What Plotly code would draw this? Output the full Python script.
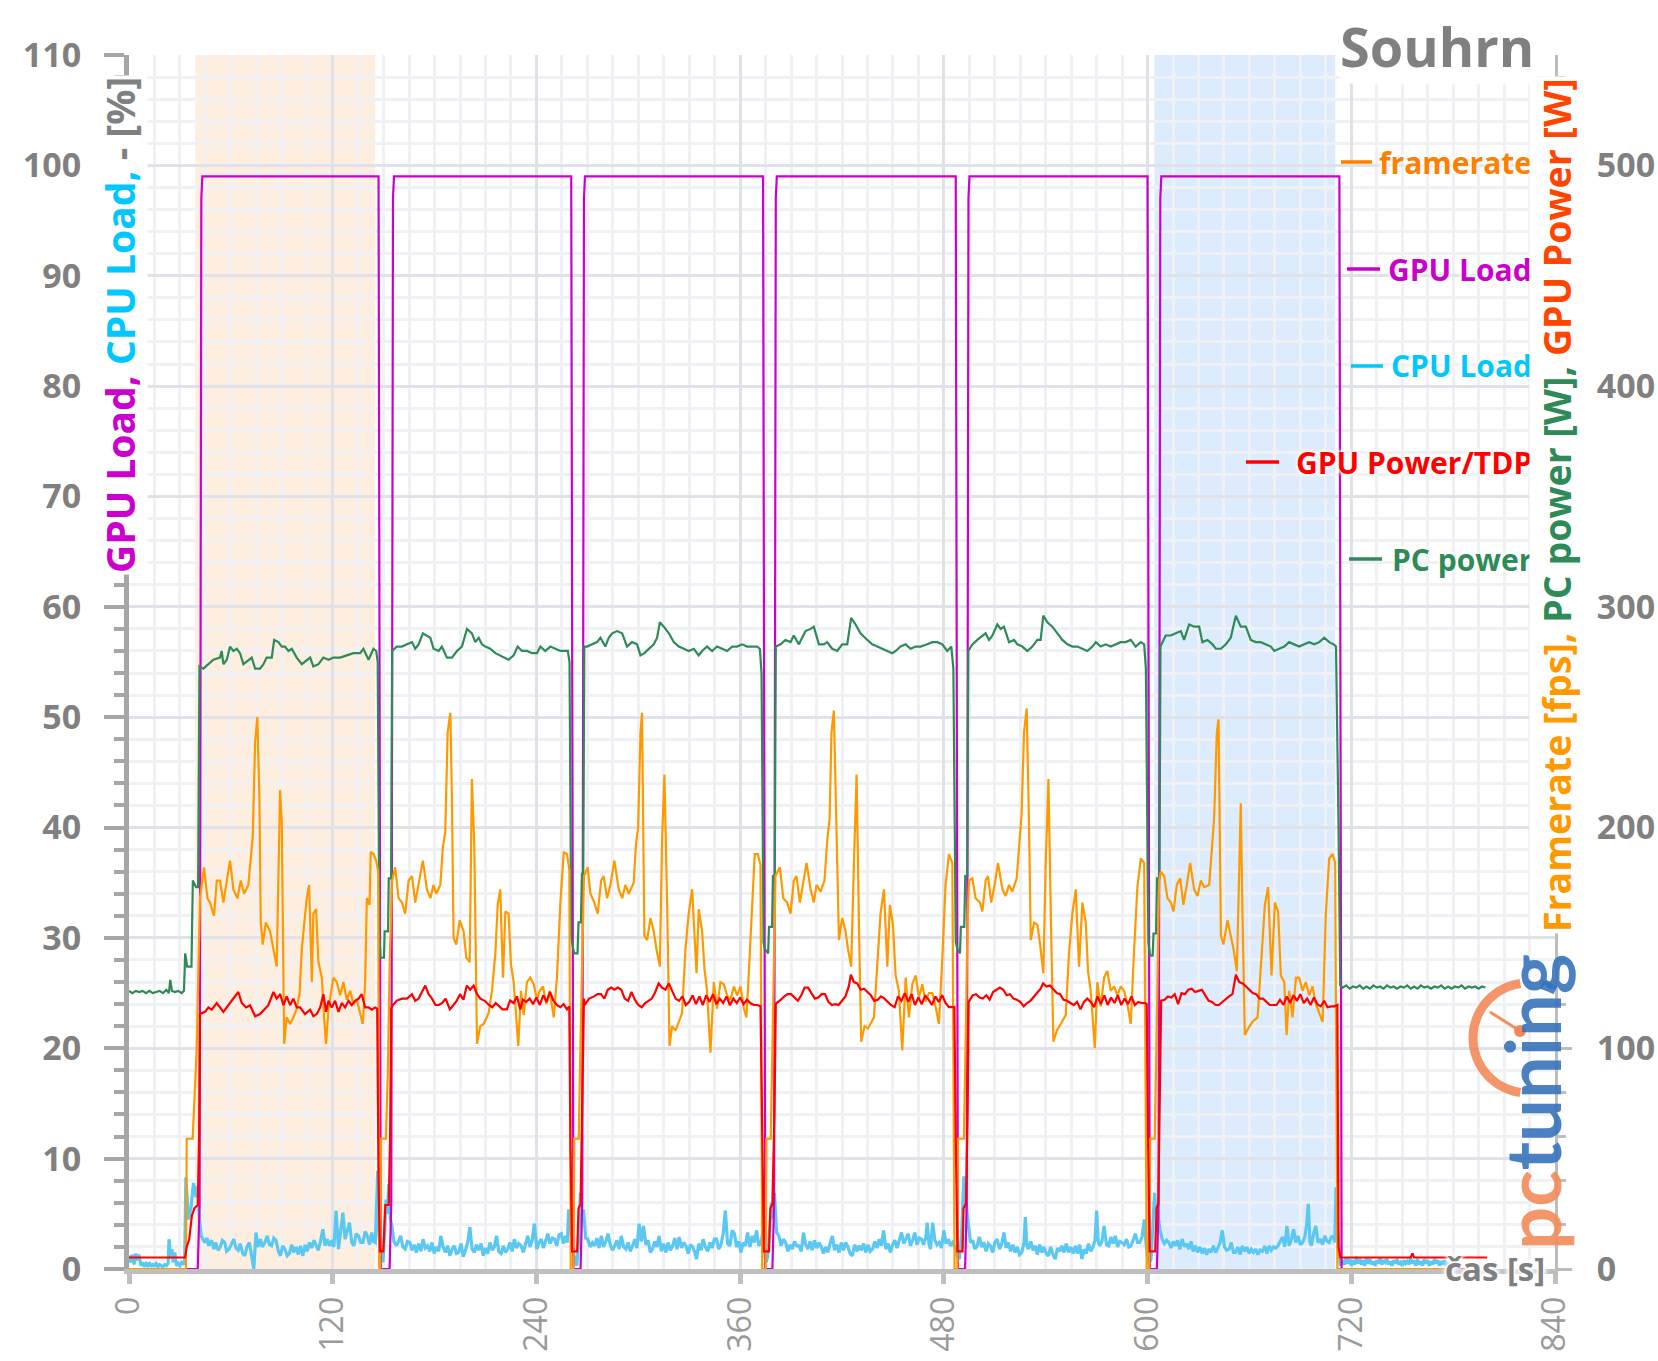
import math
import plotly.graph_objects as go

# ---------------- data ----------------
# time axis [s]
x_ticks = [0, 120, 240, 360, 480, 600, 720, 840]

# GPU Load [%] (left axis)
gpu_load_t = [0, 40.5, 41.6, 42.6, 43.2, 147.0, 148.3, 153.5, 154.5, 155.5, 156.1,
              260.5, 261.8, 266.0, 267.0, 268.0, 268.6, 373.5, 374.8, 379.0, 380.0, 381.0, 381.6,
              487.0, 488.3, 492.5, 493.5, 494.5, 495.1, 600.0, 601.3, 605.5, 606.5, 607.5, 608.1,
              713.0, 714.3, 790]
gpu_load_v = [0, 0, 6, 97, 99, 99, 0, 0, 6, 97, 99,
              99, 0, 0, 6, 97, 99, 99, 0, 0, 6, 97, 99,
              99, 0, 0, 6, 97, 99, 99, 0, 0, 6, 97, 99,
              99, 0, 0]

# framerate [fps] (right axis)
fps_pts = [
    (0, 0), (33.5, 0), (34, 59), (37.5, 59), (39.9, 100), (41.8, 168),
    (44.2, 182), (46.2, 168), (47.7, 166), (50.1, 160), (51.7, 176), (53.6, 176), (55.6, 166), (57.2, 174),
    (59.5, 185), (61.5, 172), (63.9, 168), (65.8, 176), (67.8, 170), (70.3, 174), (71.7, 188), (72.9, 196),
    (74.3, 239), (75.6, 250), (76.8, 214), (77.6, 157), (78.8, 147), (80.6, 157), (83.1, 153), (85.1, 145),
    (87, 137), (89, 217), (90, 202), (91.4, 102), (92.9, 114), (94.9, 111), (96.9, 114), (98.8, 118),
    (100.5, 125), (101.8, 145), (104.7, 168), (106.1, 174), (107.7, 130), (108.6, 161), (110.2, 163),
    (111.6, 139), (113.6, 132), (114.9, 114), (116.1, 102), (117.5, 118), (120.4, 132), (122.4, 130),
    (124.4, 124), (126.3, 130), (128.3, 122), (130.3, 126), (132.2, 120), (134.2, 122), (136.1, 116),
    (137.7, 111), (139.1, 130), (140.1, 168), (141.7, 165), (142.4, 189), (144, 188), (145.6, 185), (146.8, 180),
    (147.4, 0), (148, 0), (148.3, 59), (151.3, 59), (152.5, 90), (153.6, 140), (155, 176),
    (156.8, 182), (158.8, 168), (160.8, 166), (162.7, 161), (164.7, 176), (166.7, 178), (168.6, 166),
    (170.6, 174), (173.1, 185), (175.5, 172), (177.5, 168), (179.4, 174), (181, 170), (183.4, 174),
    (184.9, 191), (186.3, 198), (187.7, 243), (189.3, 252), (190.2, 214), (191.2, 150), (192.8, 147),
    (194.8, 158), (197.1, 153), (198.7, 141), (200.7, 139), (202, 222), (203.4, 192), (205, 102),
    (206.9, 110), (208.9, 111), (211.9, 116), (213.8, 126), (215.8, 143), (217.2, 165), (218.7, 172),
    (220.3, 132), (221.7, 162), (223.6, 161), (225, 138), (226.6, 130), (228.2, 114), (229.3, 101),
    (230.9, 126), (232.5, 115), (234.4, 130), (236.4, 132), (238.4, 129), (240.3, 122), (241.9, 126),
    (243.9, 128), (245.8, 120), (247.8, 126), (250.2, 114), (252.1, 132), (254.1, 166), (256.1, 189),
    (258, 188), (259.4, 181),
    (260.2, 0), (261.8, 0), (262.3, 59), (264.9, 59), (265.9, 100), (267, 150), (268, 178),
    (270.2, 182), (271.8, 170), (274.1, 166), (276.1, 161), (278.1, 176), (279.6, 178), (281.6, 168),
    (283.6, 174), (285.9, 185), (288.5, 172), (290.5, 168), (292.4, 174), (294.4, 170), (297.3, 175),
    (298.7, 193), (299.9, 200), (301.3, 243), (302.2, 252), (303.6, 151), (305.2, 149), (307.2, 159),
    (309.1, 153), (310.7, 145), (312.7, 137), (314, 194), (315.4, 224), (317, 165), (318.4, 101),
    (319.9, 110), (321.9, 108), (323.9, 112), (325.8, 116), (327.8, 145), (329.7, 161), (331.7, 172),
    (334.3, 134), (335.6, 163), (337.6, 153), (339, 136), (340.5, 126), (342.5, 98), (344.5, 130),
    (346.4, 118), (348.4, 130), (350.4, 129), (352.3, 124), (354.3, 122), (356.3, 128), (358.2, 124),
    (360.2, 128), (362.2, 118), (363.7, 114), (365.1, 134), (367.1, 168), (368.6, 188), (370.4, 188), (372, 183),
    (373, 0), (375, 0), (375.5, 59), (378, 59), (379, 100), (380, 150), (380.8, 178),
    (383.4, 182), (385.4, 168), (387.7, 166), (389.7, 161), (391.6, 176), (393.2, 178), (395.2, 166),
    (397.1, 174), (399.1, 184), (401.5, 172), (403.4, 166), (405, 174), (407.4, 171), (409.7, 176),
    (411.3, 194), (412.7, 204), (413.8, 243), (415.2, 253), (416.8, 200), (418.2, 149), (420.1, 159),
    (422.1, 153), (423.5, 145), (425.4, 137), (427, 183), (428.6, 224), (430, 155), (431.3, 103),
    (433.3, 110), (435.3, 109), (438.8, 114), (440.8, 139), (442.7, 161), (444.7, 172), (446.7, 137),
    (448.2, 165), (450, 156), (451.6, 133), (453.5, 126), (455.5, 99), (457.5, 132), (459.4, 114),
    (461.4, 129), (463.4, 133), (465.3, 123), (467.3, 129), (469.2, 121), (471.2, 125), (473.2, 125),
    (475.1, 119), (477.1, 111), (479.1, 141), (481, 174), (483, 188), (485, 184),
    (486.3, 0), (488, 0), (488.3, 59), (491.8, 59), (493, 110), (494, 160), (494.8, 176),
    (496.8, 177), (498.7, 168), (501.3, 166), (502.7, 162), (504.6, 176), (506, 178), (507.9, 166),
    (509.9, 174), (511.9, 184), (514.5, 172), (516.4, 169), (518.4, 174), (520.3, 171), (522.9, 177),
    (524.7, 194), (525.8, 206), (527.2, 243), (528.8, 254), (530.2, 200), (531.2, 149), (533.1, 157),
    (535.1, 156), (536.7, 147), (538.6, 134), (540, 184), (541.6, 222), (543, 161), (544.5, 103),
    (546.5, 108), (548.8, 111), (551.8, 115), (553.7, 143), (555.7, 161), (557.7, 172), (559.6, 137),
    (561.6, 166), (563.6, 157), (564.9, 135), (566.5, 126), (568.9, 100), (570.4, 130), (572.4, 119),
    (574.4, 132), (576.3, 135), (578.3, 126), (580.3, 128), (582.2, 124), (584.2, 128), (586.2, 126),
    (588.1, 120), (590.1, 111), (592.1, 145), (594, 173), (596, 186), (598, 184),
    (599.5, 0), (601, 0), (601.5, 59), (604.2, 59), (605.2, 100), (606, 150), (606.8, 176),
    (607.8, 180), (609.8, 178), (611.7, 168), (613.7, 166), (615.3, 162), (617.2, 174), (619.2, 177),
    (621.1, 165), (623.1, 174), (625.1, 184), (627.4, 172), (629.4, 169), (631.4, 176), (633.3, 173),
    (636.3, 174), (637.8, 190), (639.2, 204), (640.8, 243), (641.8, 249), (643.2, 151), (644.7, 147),
    (647.1, 158), (649, 151), (650.6, 145), (652.6, 135), (654, 192), (654.9, 211), (655.9, 161),
    (657.3, 106), (659.3, 109), (661.8, 112), (664.8, 114), (667.1, 141), (669.1, 165), (671, 173),
    (673, 133), (675, 166), (676.9, 162), (678.5, 133), (680.5, 130), (681.9, 106), (683.4, 126),
    (685.4, 114), (687.4, 132), (689.3, 132), (691.3, 126), (693.2, 130), (695.2, 124), (697.2, 128),
    (699.1, 120), (701.1, 116), (703.1, 112), (705, 161), (707, 186), (709, 188), (710.5, 184),
    (711.8, 0), (780, 0),
]

# PC power [W] (right axis)
pc_pts = [
    (0, 126), (2, 125), (4, 126), (6, 125.5), (8, 126), (10, 125), (12, 126), (14, 125), (16, 125.5),
    (18, 126), (20, 125), (22, 126.5), (23.5, 125), (24.3, 131), (25.3, 126), (27, 125.5), (29, 126),
    (31, 125), (32.4, 126), (33.1, 143), (34.3, 137), (36.8, 137), (37.6, 176), (39.5, 173), (40.7, 173),
    (41.5, 273), (43.8, 272), (46.8, 274), (49.7, 276), (53.6, 277), (54.6, 280), (55.6, 274), (57.6, 276),
    (59.5, 282), (61.5, 280), (63.5, 281), (65.4, 279), (67.4, 274), (70.3, 276), (72.3, 277), (74.3, 272),
    (77.2, 272), (79.2, 274), (81.1, 277), (84.1, 277), (85.5, 285), (88, 284), (90, 282), (91.9, 282),
    (93.9, 280), (95.9, 281), (98.8, 277), (101.8, 274), (104.7, 276), (106.7, 277), (108.6, 273),
    (111.6, 274), (114.5, 277), (117.5, 276), (120.4, 277), (124.4, 277), (128.3, 278), (132.2, 279),
    (136.1, 279), (138.1, 281), (141.1, 276), (144, 281), (145.6, 280), (146.5, 275),
    (147.5, 150), (148.2, 141), (150.2, 141), (150.6, 153), (152.6, 153), (153, 177), (154.4, 177),
    (155, 280), (157.8, 282), (160.8, 282), (163.7, 283), (166.7, 284), (168.6, 281), (170.6, 283),
    (173.1, 288), (175.5, 287), (177.5, 286), (179.4, 281), (182.4, 280), (184.3, 282), (187.3, 277),
    (190.2, 277), (193.2, 280), (196.1, 282), (199.1, 290), (202, 288), (204, 284), (206, 286),
    (207.9, 283), (209.9, 282), (212.8, 281), (215.8, 279), (218.7, 278), (221.7, 277), (223.6, 276),
    (226.6, 278), (228.9, 282), (231.5, 280), (234.4, 280), (237.4, 279), (240.3, 279), (242.3, 282),
    (245.2, 280), (248.2, 282), (251.1, 281), (254.1, 280), (257, 280), (258.5, 280), (259.5, 275),
    (260.5, 150), (261.2, 147), (262.2, 143), (264.2, 143), (264.8, 157), (266.2, 157), (266.8, 179),
    (267.6, 179), (268.2, 282), (269.8, 282), (272.8, 283), (275.7, 284), (277.7, 286), (280.6, 282),
    (282.6, 286), (284.6, 288), (287.5, 289), (290.5, 288), (293.4, 282), (296.3, 284), (299.3, 283),
    (301.3, 278), (303.6, 279), (306.2, 281), (309.1, 283), (311.1, 286), (312.7, 293), (315, 291),
    (318, 288), (320.9, 284), (323.9, 282), (326.8, 281), (329.7, 280), (332.7, 281), (335.6, 278),
    (337.6, 280), (340.5, 282), (343.5, 280), (346.4, 282), (349.4, 281), (352.3, 280), (355.3, 282),
    (358.2, 282), (361.2, 283), (364.1, 282), (367.1, 282), (370, 282), (371.6, 281), (372.6, 270),
    (373.8, 148), (374.5, 145), (376.5, 143), (377, 155), (378.8, 155), (379.3, 178), (380.4, 178),
    (381, 282), (383.8, 283), (386.7, 285), (389.7, 284), (391.6, 287), (394.6, 283), (398.5, 289),
    (401.5, 290), (403.4, 291), (406.4, 283), (409.3, 283), (411.3, 284), (414.2, 281), (417.2, 280),
    (420.1, 283), (423.1, 283), (425.4, 295), (428, 292), (430.9, 288), (434.9, 285), (437.8, 283),
    (440.8, 282), (443.7, 281), (446.7, 280), (449.6, 279), (451.6, 280), (454.5, 282), (457.5, 283),
    (460.4, 281), (463.4, 282), (466.3, 282), (470.2, 283), (473.2, 284), (476.1, 284), (479.1, 283),
    (482, 280), (484.4, 282), (485.6, 272), (487, 148), (488, 145), (489.5, 143), (490, 155), (492, 155),
    (492.6, 178), (493.8, 178), (494.4, 280), (496.8, 283), (499.7, 285), (502.7, 287), (504.6, 288),
    (506.6, 285), (508.6, 287), (511.5, 292), (513.5, 290), (515.4, 291), (518.4, 284), (521.3, 285),
    (523.3, 283), (526.2, 282), (529.2, 280), (532.1, 282), (535.1, 285), (537, 285), (538.6, 296),
    (541, 293), (543.9, 291), (546.9, 288), (549.8, 285), (552.8, 283), (555.7, 282), (558.7, 282),
    (561.6, 281), (564.5, 280), (567.5, 282), (569.5, 284), (572.4, 282), (575.4, 283), (578.3, 282),
    (581.2, 283), (584.2, 284), (587.1, 284), (590.1, 285), (593, 282), (596, 284), (598, 283),
    (599, 272), (600.5, 148), (601.5, 142), (603, 142), (603.5, 152), (605, 152), (605.6, 177), (607, 177),
    (607.6, 282), (610.7, 287), (613.7, 287), (616.6, 288), (619.6, 289), (621.5, 285), (624.5, 292),
    (627.4, 291), (630.4, 291), (632.3, 284), (635.3, 285), (638.2, 283), (640.2, 281), (643.2, 281),
    (646.1, 283), (649, 286), (652, 296), (654.9, 291), (657.9, 291), (660.8, 285), (663.8, 284),
    (666.7, 284), (669.7, 283), (672.6, 282), (674.6, 280), (677.5, 281), (680.5, 282), (683.4, 284),
    (686.4, 283), (689.3, 282), (692.3, 283), (695.2, 284), (698.2, 283), (701.1, 284), (704.1, 286),
    (707, 284), (709.6, 283), (711, 282), (712.5, 200), (713.5, 128.5),
    (715, 127.5), (717, 128.5), (719, 127), (721, 128), (723, 127.5), (725, 128.5), (727, 127), (729, 128),
    (731, 127), (733, 128.5), (735, 127.5), (737, 128), (739, 127), (741, 128.5), (743, 127.5), (745, 128),
    (747, 127), (749, 128), (751, 127.5), (753, 128.5), (755, 127), (757, 128), (759, 127), (761, 128.5),
    (763, 127.5), (765, 128), (767, 127), (769, 128), (771, 127.5), (773, 128.5), (775, 127), (777, 128),
    (779, 127), (781, 128), (783, 127.5), (785, 128.5), (787, 127), (789, 128), (791, 127.5), (793, 128),
    (795, 127), (797, 128), (799, 127.5),
]

# GPU power [W] (right axis)
gpu_pow_pts = [
    (0, 5.2), (33, 5.2), (34, 10), (35.5, 13.5), (37, 24), (38.5, 27.5), (40.5, 29), (41.3, 60),
    (41.8, 115.5), (44.8, 116.5), (46.8, 118.5), (48.7, 117.5), (51.7, 120.5), (53.6, 118.5), (55.6, 116.5),
    (58.5, 119.5), (61.5, 122.5), (64.4, 125.5), (66.4, 120.5), (69, 118.5), (71.3, 119.5), (74.3, 114.5),
    (77.2, 115.5), (79.6, 117.5), (82.1, 119.5), (85.1, 125.5), (87, 122.5), (89, 124.5), (91, 119.5),
    (92.9, 123.5), (94.9, 119.5), (96.8, 122.5), (98.8, 118.5), (100.8, 118.5), (103.7, 115.5),
    (106.7, 117.5), (108.6, 114.5), (110.6, 115.5), (112.6, 118.5), (114.5, 124.5), (116.1, 116.5),
    (117.5, 121.5), (119.4, 118.5), (121.4, 121.5), (123.4, 116.5), (125.3, 120.5), (127.3, 118.5),
    (129.3, 121.5), (131.2, 119.5), (133.2, 121.5), (135.2, 122.5), (137.1, 124.5), (139.1, 118.5),
    (141.1, 118.5), (143, 117.5), (145, 118.5), (146.2, 118),
    (147, 40), (147.8, 8), (149.8, 8), (150.4, 23.5), (151, 29), (153, 29), (153.8, 60), (154.5, 118),
    (155.5, 119.6), (157.8, 121.6), (160.8, 122.5), (163.7, 122.5), (166.7, 124.5), (168.6, 121.5),
    (170.6, 122.5), (174.5, 128.4), (176.5, 124.5), (178.5, 122.5), (180.5, 119.6), (182.5, 119.6),
    (184.5, 120.5), (186.5, 122.5), (189, 117.6), (191, 119.5), (193, 121.5), (195, 124.5), (197, 122),
    (199, 128.4), (201, 126.5), (203, 128.4), (205, 124.5), (207, 122.5), (209.5, 121.5), (212, 119.6),
    (214, 118.6), (216, 120.5), (218, 119), (220, 117.6), (222.6, 117.6), (224.5, 121.6), (226.5, 120.5),
    (228.5, 123.5), (230.5, 117.6), (232, 122), (234, 121), (236, 122.5), (238, 120), (240, 123),
    (242, 119.6), (244, 124), (246, 121), (248, 125.5), (250, 121.6), (252, 119.6), (254, 118.6),
    (256, 120), (258, 117.6), (259.4, 119),
    (260, 60), (261, 8), (264, 8), (264.8, 27.5), (266, 29.5), (267, 70), (268, 122.5),
    (268.5, 119.6), (271, 122.5), (274, 123.5), (276, 124.5), (278, 124.5), (280, 122.5), (282, 126.5),
    (284, 127.5), (286, 126.5), (288, 127.5), (290, 126.5), (292, 122.5), (294, 121.5), (296, 125.5),
    (298, 122), (300, 119.6), (302, 118.6), (304, 120.5), (306, 121.5), (308, 122.5), (310, 125.5),
    (312, 129.4), (314, 127.5), (316, 126.5), (318, 129.4), (320, 126), (322, 122.5), (324, 121.5),
    (326, 123.5), (328, 119.6), (330, 121), (332, 124), (334, 120), (336, 123.5), (338, 119.6), (340, 124),
    (342, 121), (344, 124.5), (346, 120), (348, 122.5), (350, 120.5), (352, 123.5), (354, 119.5),
    (356, 122.5), (358, 120.5), (360, 123), (362, 120), (364, 122), (366, 120.5), (368, 119.6),
    (370, 119.6), (372, 119),
    (373, 60), (374, 8), (377, 8), (377.8, 27.5), (379, 29.5), (380.2, 70), (381, 120),
    (381.5, 120.5), (384, 122), (386, 123.5), (388, 124.5), (390, 124.5), (392, 123), (394, 121.5),
    (396, 124), (398, 127.5), (400, 127.5), (402, 125), (404, 122.5), (406, 123), (408, 124.5),
    (410, 124.5), (412, 121), (414, 119.6), (416, 120), (418, 119.6), (420, 121.5), (422, 123.5),
    (424, 128), (425.2, 133.3), (427, 130), (429, 129.4), (431, 126.5), (433, 127), (435, 125.5),
    (437, 124), (439, 121.5), (441, 122), (443, 123.5), (445, 122.5), (447, 121), (449, 119.5),
    (451, 118.6), (453, 123.5), (455, 121.5), (457, 125), (459, 121), (461, 124.5), (463, 119.6),
    (465, 123), (467, 120), (469, 124), (471, 122), (473, 119.6), (475, 123.5), (477, 121), (479, 124),
    (481, 120.5), (483, 118.6), (485, 118.6), (486.2, 118.6),
    (487, 60), (488, 8), (491, 8), (491.6, 27.5), (493, 29.5), (494, 70), (494.6, 121),
    (495, 121.6), (497, 124), (499, 124.5), (501, 123), (503, 122.5), (505, 124), (507, 122),
    (509, 125.5), (511, 126.5), (513, 127.5), (515, 126.5), (517, 124), (519, 124.5), (521, 122.5),
    (523, 122), (525, 121), (527, 119), (529, 120.5), (531, 121.5), (533, 123.5), (535, 125.5),
    (537, 127), (538.5, 129.4), (540.5, 128), (542.5, 128.4), (544.5, 126.5), (546.5, 125), (548.5, 124.5),
    (550.5, 122), (552.5, 121.5), (554.5, 120.5), (556.5, 119.6), (558.5, 121), (560.5, 117.6),
    (562.5, 121), (564.5, 122.5), (566.5, 121), (568.5, 118.6), (570.5, 123.5), (572.5, 120), (574.5, 124),
    (576.5, 119.6), (578.5, 123), (580.5, 120.5), (582.5, 124), (584.5, 119.6), (586.5, 122.5),
    (588.5, 120), (590.5, 123.5), (592.5, 119.6), (594.5, 121), (596.5, 120.5), (598.5, 120.5), (599.5, 120),
    (600.3, 60), (601.2, 8), (604.5, 8), (605.3, 27.5), (606.3, 29.5), (607, 70), (607.6, 121),
    (608, 121.6), (610, 122), (612, 123.5), (614, 123), (616, 124.5), (618, 120), (620, 125), (622, 124.5),
    (624, 126.5), (626, 127), (628, 125.5), (630, 126), (632, 126.5), (634, 124), (636, 121.5), (638, 121),
    (640, 119.6), (642, 119.6), (644, 121), (646, 122.5), (648, 123.5), (650, 124.5), (652, 133.3),
    (654, 130), (656, 129.4), (658, 128), (660, 126.5), (662, 125), (664, 124.5), (666, 122.5),
    (668, 122.5), (670, 121), (672, 119.6), (674, 119.6), (676, 119.6), (678, 122), (680, 119.6),
    (682, 123.5), (684, 120.5), (686, 124), (688, 121.5), (690, 124.5), (692, 120.5), (694, 122.5),
    (696, 119.6), (698, 123), (700, 120), (702, 119), (704, 121.5), (706, 118.6), (708, 119), (710, 119),
    (711.8, 119.6), (712.5, 10), (713.5, 5.2), (755, 5.2), (756, 7), (757, 5.2), (800, 5.2),
]

# CPU Load [%] (left axis)
cpu_pts = [
    (0, 1.2), (1, 0.6), (2, 1.3), (3, 0.4), (4, 1.4), (5, 0.8), (6, 1.3), (7, 0.3), (8, 0.6), (9, 0.2),
    (10, 0.5), (11, 0.3), (12, 0.6), (13, 0.2), (14, 0.4), (15, 0.3), (16, 0.5), (17, 0.2), (18, 0.4),
    (19, 0.3), (20, 0.2), (21, 0.4), (22, 0.3), (23, 0.5), (23.6, 2.7), (24.5, 1.0), (25.3, 1.8), (26, 0.6),
    (27, 1.5), (28, 0.3), (29, 0.5), (30, 0.3), (31, 0.6), (32, 0.4), (32.8, 0.7), (33.5, 8.3), (35, 4.5),
    (36.5, 5.5), (38, 7.8), (39.5, 6.5), (40.5, 7.5), (41.5, 4.5), (42.5, 3.0), (43.5, 2.7),
    (44.6, 2.4), (46, 2.8), (47, 2.1), (48.6, 2.6), (50, 1.8), (51, 2.4), (52.5, 1.7), (53.8, 2.0), (55, 2.6),
    (56.4, 2.4), (57.5, 1.6), (59, 1.8), (60.3, 2.2), (61.7, 2.7), (63, 1.9), (64.3, 1.7), (65.5, 2.3),
    (67, 1.4), (68.2, 1.2), (69.5, 2.0), (70.9, 2.4), (72, 1.3), (73.5, 0), (74.8, 3.3), (76, 2.0),
    (77.4, 2.7), (78.5, 2.0), (80, 2.4), (81.4, 3.0), (82.7, 2.2), (84, 2.1), (85.3, 2.8), (86.6, 2.6),
    (88, 1.6), (89.2, 1.2), (90.5, 2.1), (91.9, 1.8), (93.2, 1.2), (94.5, 1.4), (95.8, 2.2), (97, 1.5),
    (98.4, 2.0), (99.7, 1.3), (101, 2.1), (102.4, 1.2), (103.7, 2.2), (105, 1.6), (106.3, 2.4), (107.6, 1.9),
    (109, 2.6), (110.2, 2.1), (111.5, 1.7), (112.8, 2.5), (114.2, 3.6), (115.5, 2.1), (116.8, 2.7),
    (118.1, 2.1), (119.4, 2.6), (120.7, 2.0), (122, 5.3), (123.4, 1.8), (124.7, 3.5), (126, 5.1),
    (127.3, 2.7), (128.6, 3.6), (129.9, 4.2), (131.2, 2.4), (132.5, 2.1), (133.8, 3.2), (135.2, 3.0),
    (136.5, 2.4), (137.8, 2.4), (139.1, 3.4), (140.4, 3.0), (141.7, 2.2), (143, 3.3), (144, 2.5),
    (145.1, 2.4), (146.5, 8.9), (147.3, 3.0), (148.3, 1.5), (149.6, 0.6), (150.5, 3.0), (151.4, 6.3),
    (152.2, 5.0), (153, 7.7), (154, 4.5), (154.9, 3.9), (156, 2.5), (157.5, 2.1),
    (159, 2.6), (160, 3.0), (161.3, 2.0), (162.7, 1.8), (164, 2.5), (165.4, 2.4), (166.7, 1.7), (168, 2.2),
    (169.3, 1.5), (170.6, 2.3), (172, 1.6), (173.2, 2.7), (174.5, 1.9), (175.9, 2.1), (177.2, 1.6),
    (178.5, 2.4), (179.8, 1.4), (181, 2.0), (182.4, 1.6), (183.7, 3.0), (185, 2.0), (186.4, 1.5),
    (187.7, 2.1), (189, 1.2), (190.3, 1.8), (191.6, 2.1), (192.9, 1.4), (194.2, 1.5), (195.6, 2.3),
    (196.9, 1.1), (198.2, 1.7), (199.5, 2.4), (200.8, 3.8), (202.1, 1.8), (203.4, 1.5), (204.7, 2.2),
    (206, 1.7), (207.4, 2.3), (208.7, 1.2), (210, 1.9), (211.3, 1.4), (212.6, 2.4), (214, 1.7), (215.2, 2.0),
    (216.5, 3.0), (217.8, 1.6), (219.2, 1.4), (220.5, 2.1), (221.8, 1.5), (223.1, 1.8), (224.4, 2.4),
    (225.7, 1.6), (227, 2.7), (228.3, 1.9), (229.6, 2.3), (231, 2.1), (232.3, 1.5), (233.6, 2.4),
    (234.9, 3.0), (236.2, 2.0), (237.5, 2.6), (238.8, 4.1), (240.2, 1.8), (241.5, 2.4), (242.8, 2.7),
    (244.1, 1.9), (245.4, 2.6), (246.7, 3.2), (248, 2.3), (249.4, 2.8), (250.7, 2.7), (252, 2.1),
    (253.3, 3.1), (254.6, 3.2), (255.9, 2.3), (257.2, 3.0), (258.2, 2.4), (259, 5.4), (260.2, 3.5),
    (261.2, 2.1), (262.5, 0.8), (263.8, 0.3), (265, 3.0), (265.9, 6.9), (266.8, 4.5), (267.7, 5.4),
    (269, 2.8), (270.3, 2.7),
    (271.6, 2.0), (273, 2.4), (274.3, 2.1), (275.6, 2.8), (276.9, 1.9), (278.2, 3.0), (279.5, 2.0),
    (280.9, 2.5), (282.2, 3.2), (283.5, 2.2), (284.8, 1.7), (286.1, 2.1), (287.4, 2.6), (288.8, 1.8),
    (290, 3.0), (291.4, 2.0), (292.7, 1.8), (294, 2.4), (295.3, 1.6), (296.6, 2.1), (298, 2.7), (299.2, 1.9),
    (300.5, 4.1), (301.8, 2.5), (303.1, 3.9), (304.5, 2.2), (305.8, 2.6), (307.1, 1.5), (308.4, 1.8),
    (309.7, 2.5), (311, 2.0), (312.3, 3.0), (313.6, 1.6), (315, 2.3), (316.3, 1.5), (317.6, 2.4),
    (318.9, 1.7), (320.2, 2.1), (321.5, 2.8), (322.8, 1.8), (324.1, 2.9), (325.5, 1.9), (326.8, 2.4),
    (328.1, 2.1), (329.4, 1.4), (330.7, 2.2), (332, 2.0), (333.3, 1.5), (334.3, 0.9), (335.6, 2.3),
    (337, 1.7), (338.2, 2.7), (339.5, 2.0), (340.9, 1.6), (342.2, 2.4), (343.5, 1.9), (344.8, 2.7),
    (346.1, 2.7), (347.4, 1.8), (348.7, 2.2), (350, 3.2), (351.3, 5.3), (352.6, 2.3), (354, 2.1),
    (355.3, 3.5), (356.6, 3.2), (357.9, 2.0), (359.2, 2.5), (360.5, 1.5), (361.8, 2.4), (363.1, 2.1),
    (364.4, 3.3), (365.8, 2.0), (367.1, 3.0), (368.4, 2.4), (369.7, 3.5), (371, 2.1), (372.3, 2.4),
    (373.5, 3.4), (374.2, 1.8), (375.3, 0.6), (376.3, 1.2), (377.4, 3.8), (378.4, 6.0), (379.3, 4.6),
    (380.2, 6.9), (381.5, 3.3), (382.8, 3.0),
    (384.1, 2.1), (385.4, 2.7), (386.8, 2.4), (388.1, 1.6), (389.4, 2.2), (390.7, 1.8), (392, 2.5),
    (393.3, 2.1), (394.6, 2.1), (396, 1.6), (397.3, 3.3), (398.6, 2.2), (399.9, 1.8), (401.2, 2.5),
    (402.5, 1.7), (403.8, 2.6), (405.1, 1.9), (406.5, 2.4), (407.8, 2.0), (409.1, 1.4), (410.4, 2.0),
    (411.7, 1.5), (413, 2.3), (414.3, 3.0), (415.6, 1.7), (417, 2.2), (418.3, 1.5), (419.6, 2.4),
    (420.9, 1.7), (422.2, 2.4), (423.5, 2.0), (424.8, 1.4), (426.1, 1.2), (427.5, 2.2), (428.8, 1.6),
    (430.1, 2.1), (431.4, 1.7), (432.7, 2.3), (434, 1.5), (435.3, 2.2), (436.6, 1.6), (438, 1.8),
    (439.3, 2.5), (440.6, 1.9), (441.9, 2.7), (443.2, 2.1), (444.5, 3.5), (445.8, 1.8), (447.2, 2.3),
    (448.5, 1.5), (449.8, 2.2), (451.1, 2.6), (452.4, 1.9), (453.7, 2.6), (455.1, 3.3), (456.4, 2.3),
    (457.7, 2.7), (459, 3.2), (460.3, 2.1), (461.6, 2.6), (462.9, 3.3), (464.2, 2.2), (465.5, 2.8),
    (466.8, 2.7), (468.1, 2.2), (469.4, 2.9), (470.2, 4.2), (471.2, 2.3), (472.1, 1.8), (473.4, 4.2),
    (474.7, 2.6), (476, 2.2), (477.3, 2.4), (478.6, 1.9), (480, 3.5), (481.3, 2.3), (482.6, 2.7),
    (483.9, 2.1), (485.2, 2.4), (486.5, 2.0), (487.8, 1.2), (489.1, 0.9), (490.4, 3.0), (491.8, 8.4),
    (492.5, 5.5), (493.1, 6.0), (494.4, 4.0), (495.7, 2.4),
    (497, 2.6), (498.3, 1.8), (499.6, 2.1), (500.9, 2.9), (502.3, 2.0), (503.6, 2.4), (504.9, 1.6),
    (506.2, 2.3), (507.5, 2.1), (508.8, 1.5), (510.1, 2.4), (511.4, 2.7), (512.8, 1.8), (514.1, 2.3),
    (515.4, 3.3), (516.7, 1.9), (518, 2.4), (519.3, 1.6), (520.6, 2.2), (521.9, 1.5), (523.2, 2.0),
    (524.6, 1.3), (525.9, 1.5), (527.2, 2.4), (528, 4.7), (528.9, 2.1), (529.8, 1.8), (531.2, 2.5),
    (532.5, 1.7), (533.8, 2.1), (535.1, 1.3), (536.4, 2.2), (537.7, 1.5), (539, 2.0), (540.3, 1.4),
    (541.6, 1.2), (542.9, 2.0), (544.3, 1.3), (545.6, 0.9), (546.9, 1.9), (548.2, 1.6), (549.5, 2.1),
    (550.8, 1.5), (552.1, 2.3), (553.4, 1.5), (554.8, 2.0), (556.1, 1.4), (557.4, 2.1), (558.7, 1.4),
    (560, 2.2), (561.3, 0.9), (562.6, 1.8), (563.9, 1.4), (565.2, 2.3), (566.6, 1.6), (567.9, 2.0),
    (569, 2.6), (570, 5.3), (570.9, 2.5), (571.8, 2.1), (573.1, 2.5), (574.4, 3.9), (575.8, 2.2),
    (577.1, 2.1), (578.4, 2.9), (579.7, 2.3), (581, 3.0), (582.3, 2.0), (583.6, 2.5), (584.9, 2.4),
    (586.3, 2.2), (587.6, 2.7), (588.9, 2.0), (590.2, 2.1), (591.5, 2.6), (592.8, 3.2), (594.1, 2.4),
    (595.4, 2.4), (596.7, 2.9), (598.1, 4.5), (599, 2.5), (599.9, 1.2), (601, 0.5), (602, 0.9), (603, 3.5),
    (604.1, 6.9), (605, 5.0), (605.9, 5.4), (607.2, 3.6), (608.6, 2.7),
    (609.9, 2.3), (611.2, 2.6), (612.5, 2.4), (613.8, 1.9), (615.1, 2.5), (616.4, 2.1), (617.7, 2.6),
    (619, 1.8), (620.4, 2.7), (621.7, 2.0), (623, 2.3), (624.3, 1.8), (625.6, 2.5), (626.9, 1.6),
    (628.2, 2.1), (629.6, 1.5), (630.9, 2.0), (632.2, 1.4), (633.5, 1.9), (634.8, 1.3), (636.1, 1.8),
    (637.4, 1.5), (638.8, 2.1), (640.1, 1.5), (641.4, 1.9), (642.7, 2.4), (644, 3.5), (645.3, 2.0),
    (646.6, 1.7), (648, 1.8), (649.3, 2.4), (650.6, 1.5), (651.9, 1.5), (653.2, 2.0), (654.5, 1.3),
    (655.8, 2.1), (657.1, 1.6), (658.5, 2.0), (659.8, 1.4), (661.1, 1.8), (662.4, 1.5), (663.7, 1.8),
    (665, 1.3), (666.3, 1.7), (667.6, 1.6), (669, 2.1), (670.3, 1.4), (671.6, 2.1), (672.9, 1.7),
    (674.2, 2.0), (675.5, 1.9), (676.8, 2.1), (678.1, 2.5), (679.5, 2.9), (680.8, 2.0), (682.1, 3.9),
    (683.4, 2.1), (684.7, 2.7), (686, 3.6), (687.3, 2.4), (688.6, 3.0), (690, 2.2), (691.3, 2.4),
    (692.6, 2.9), (693.7, 4.0), (694.7, 5.9), (695.6, 2.5), (696.5, 2.1), (697.8, 3.2), (699.1, 3.9),
    (700.4, 2.4), (701.8, 2.7), (703.1, 2.2), (704.4, 3.0), (705.7, 2.5), (707, 2.4), (708.3, 2.9),
    (709.6, 3.0), (710.3, 2.4), (711, 7.4), (712, 3.5), (713, 1.0), (713.6, 0.3),
    (715, 0.8), (716, 0.4), (717, 1.0), (718, 0.5), (719, 0.9), (720, 0.3), (721, 0.8), (722, 0.4),
    (723, 1.1), (724, 0.5), (725, 0.9), (726, 0.4), (727, 0.8), (728, 0.3), (729, 1.0), (730, 0.5),
    (731, 0.9), (732, 0.4), (733, 0.7), (734, 0.3), (735, 0.8), (736, 0.5), (737, 1.0), (738, 0.4),
    (739, 0.8), (740, 0.6), (741, 0.9), (742, 0.4), (743, 0.7), (744, 0.3), (745, 0.8), (746, 0.5),
    (747, 0.9), (748, 0.4), (749, 0.6), (750, 0.3), (751, 0.8), (752, 0.5), (753, 0.7), (754, 0.4),
    (755, 1.0), (756, 0.5), (757, 0.8), (758, 0.3), (759, 0.9), (760, 0.4), (761, 0.7), (762, 0.3),
    (763, 0.9), (764, 0.5), (765, 0.8), (766, 0.3), (767, 0.7), (768, 0.4), (769, 0.9), (770, 0.5),
    (771, 0.8), (772, 0.3), (773, 0.7), (774, 0.4), (775, 0.8), (776, 0.3), (777, 0.6),
]

# highlighted time ranges [s]
band_orange = [39, 145]
band_blue = [604, 710.5]

# ---------------- styling ----------------
FONT = "Open Sans"
GRAY = "#808080"
W, H = 1658, 1361
PL, PR, PT, PB = 129, 1555, 55, 1269      # plot area in pixels
GLOW = "0px 0px 3px #fff, 0px 0px 3px #fff, 0px 0px 4px #fff, 0px 0px 5px #fff"
GLOW2 = ("0px 0px 2px #fff, 0px 0px 2px #fff, 0px 0px 3px #fff, 0px 0px 3px #fff, "
         "0px 0px 4px #fff, 0px 0px 5px #fff, 0px 0px 6px #fff, 0px 0px 7px #fff")


def px(X):
    return (X - PL) / (PR - PL)


def py(Y):
    return (PB - Y) / (PB - PT)


def split(pts):
    return [p[0] for p in pts], [p[1] for p in pts]


fig = go.Figure()

fps_t, fps_v = split(fps_pts)
pc_t, pc_v = split(pc_pts)
gp_t, gp_v = split(gpu_pow_pts)
cpu_t, cpu_v = split(cpu_pts)

fig.add_trace(go.Scatter(x=pc_t, y=pc_v, yaxis="y2", mode="lines",
                         line=dict(color="#2E8B57", width=2.2), name="PC power"))
fig.add_trace(go.Scatter(x=fps_t, y=fps_v, yaxis="y2", mode="lines",
                         line=dict(color="#FF9900", width=2.2), name="framerate"))
fig.add_trace(go.Scatter(x=cpu_t, y=cpu_v, yaxis="y", mode="lines",
                         line=dict(color="#5BC8F2", width=3.2), name="CPU Load"))
fig.add_trace(go.Scatter(x=gp_t, y=gp_v, yaxis="y2", mode="lines",
                         line=dict(color="#FF0000", width=2.2), name="GPU Power/TDP"))
fig.add_trace(go.Scatter(x=gpu_load_t, y=gpu_load_v, yaxis="y", mode="lines",
                         line=dict(color="#CC00CC", width=2.2), name="GPU Load"))

shapes = [
    dict(type="rect", xref="x", yref="paper", x0=band_orange[0], x1=band_orange[1], y0=0, y1=1,
         fillcolor="rgba(250,200,150,0.30)", line=dict(width=0), layer="between"),
    dict(type="rect", xref="x", yref="paper", x0=band_blue[0], x1=band_blue[1], y0=0, y1=1,
         fillcolor="rgba(150,195,245,0.32)", line=dict(width=0), layer="between"),
]

# custom legend (line + label) on the right side of the plot
legend_items = [
    ("framerate", "#FF8000", 162, 1341, 1372),
    ("GPU Load", "#CC00CC", 269, 1347, 1380),
    ("CPU Load", "#00C8FF", 366, 1351, 1383),
    ("GPU Power/TDP", "#FF0000", 462, 1246, 1279),
    ("PC power", "#2E8B57", 559, 1349, 1382),
]
annotations = []
for label, col, yy, xa, xb in legend_items:
    shapes.append(dict(type="line", xref="paper", yref="paper", x0=px(xa), x1=px(xb), y0=py(yy), y1=py(yy),
                       line=dict(color=col, width=3.5), layer="above"))
    annotations.append(dict(text=label, xref="paper", yref="paper", x=px(1534), y=py(yy),
                            xanchor="right", yanchor="middle", showarrow=False,
                            font=dict(family=FONT, size=30, color=col, weight="bold", shadow=GLOW)))

# axis titles (multi-coloured), on a white strip that hides the axis line
left_title = ("<span style='color:#CC00CC'>GPU Load, </span>"
              "<span style='color:#00C8FF'>CPU Load, </span>"
              "<span style='color:#808080'>- [%]</span>")
right_title = ("<span style='color:#FF9900'>Framerate [fps], </span>"
               "<span style='color:#2E8B57'>PC power [W], </span>"
               "<span style='color:#FF4500'>GPU Power [W]</span>")
annotations.append(dict(text=left_title, xref="paper", yref="paper", x=px(120), y=py(325),
                        xanchor="center", yanchor="middle", textangle=-90, showarrow=False,
                        bgcolor="white", borderpad=1,
                        font=dict(family=FONT, size=39, weight="bold")))
annotations.append(dict(text=right_title, xref="paper", yref="paper", x=px(1556), y=py(505),
                        xanchor="center", yanchor="middle", textangle=-90, showarrow=False,
                        bgcolor="white", borderpad=1,
                        font=dict(family=FONT, size=37.5, weight="bold")))

# chart title and x-axis title
annotations.append(dict(text="Souhrn", xref="paper", yref="paper", x=px(1535), y=py(46),
                        xanchor="right", yanchor="middle", showarrow=False, bgcolor="white", borderpad=0,
                        font=dict(family=FONT, size=54, color=GRAY, weight="bold")))
annotations.append(dict(text="čas [s]", xref="paper", yref="paper", x=px(1547), y=py(1268),
                        xanchor="right", yanchor="middle", showarrow=False,
                        font=dict(family=FONT, size=33, color=GRAY, weight="bold", shadow=GLOW2)))

# pctuning watermark: gauge arc, needle and rotated text
cx, cy, r = 1528, 1038, 55
arc = []
for i in range(0, 41):
    a = math.radians(98 + i * (262 - 98) / 40)
    arc.append((cx + r * math.cos(a), cy - r * math.sin(a)))
path = "M " + " L ".join(f"{px(X):.5f},{py(Y):.5f}" for X, Y in arc)
shapes.append(dict(type="path", xref="paper", yref="paper", path=path,
                   line=dict(color="rgba(242,130,80,0.85)", width=9), layer="above"))
bt = []
for i in range(0, 6):
    a = math.radians(60 + i * (76 - 60) / 5)
    bt.append((cx + r * math.cos(a), cy - r * math.sin(a)))
shapes.append(dict(type="path", xref="paper", yref="paper",
                   path="M " + " L ".join(f"{px(X):.5f},{py(Y):.5f}" for X, Y in bt),
                   line=dict(color="rgba(60,120,190,0.9)", width=9), layer="above"))
shapes.append(dict(type="line", xref="paper", yref="paper", x0=px(1490), y0=py(1012), x1=px(1520), y1=py(1031),
                   line=dict(color="rgba(242,130,80,0.9)", width=3), layer="above"))
shapes.append(dict(type="circle", xref="paper", yref="paper", x0=px(1514), x1=px(1526), y0=py(1037), y1=py(1025),
                   fillcolor="rgba(242,130,80,0.95)", line=dict(width=0), layer="above"))
annotations.append(dict(text="<span style='color:rgba(242,140,90,0.9)'>pc</span>"
                             "<span style='color:rgba(55,115,185,0.9)'>tuning</span>",
                        xref="paper", yref="paper", x=px(1531), y=py(1102),
                        xanchor="center", yanchor="middle", textangle=-90, showarrow=False,
                        font=dict(family="Lato", size=76, weight="bold")))

fig.update_layout(
    width=W, height=H,
    margin=dict(l=PL, r=W - PR, t=PT, b=H - PB, pad=0, autoexpand=False),
    paper_bgcolor="white", plot_bgcolor="white",
    showlegend=False,
    shapes=shapes, annotations=annotations,
    xaxis=dict(range=[0, 840], tickvals=x_ticks, ticks="outside", ticklen=10, tickwidth=5,
               tickcolor="#BFBFBF", showline=True, linecolor="#BFBFBF", linewidth=5, automargin=False,
               tickangle=-90, tickfont=dict(family=FONT, size=32, color="#9A9A9A"),
               showgrid=True, gridcolor="#DFE2E8", gridwidth=3, zeroline=False,
               minor=dict(dtick=15, showgrid=True, gridcolor="#F0F1F4", gridwidth=3, ticks="")),
    yaxis=dict(range=[0, 110], dtick=10, ticks="outside", ticklen=20, tickwidth=4, tickcolor="#A6A6A6",
               showline=True, linecolor="#A6A6A6", linewidth=5, zeroline=False, automargin=False,
               tickfont=dict(family=FONT, size=34, color=GRAY, weight="bold"), ticklabelstandoff=16,
               showgrid=True, gridcolor="#DFE2E8", gridwidth=3,
               minor=dict(dtick=2, showgrid=True, gridcolor="#F0F1F4", gridwidth=3, ticks="outside",
                          ticklen=10, tickwidth=4, tickcolor="#A6A6A6")),
    yaxis2=dict(range=[0, 550], dtick=100, overlaying="y", side="right", ticks="outside", ticklen=14,
                tickwidth=3, tickcolor="#BDBDBD", showline=True, linecolor="#BDBDBD", linewidth=3,
                showgrid=False, zeroline=False, automargin=False,
                tickfont=dict(family=FONT, size=34, color=GRAY, weight="bold"), ticklabelstandoff=18,
                minor=dict(dtick=20, ticks="outside", ticklen=8, tickwidth=3, tickcolor="#BDBDBD")),
)

fig.write_html("out.html")
